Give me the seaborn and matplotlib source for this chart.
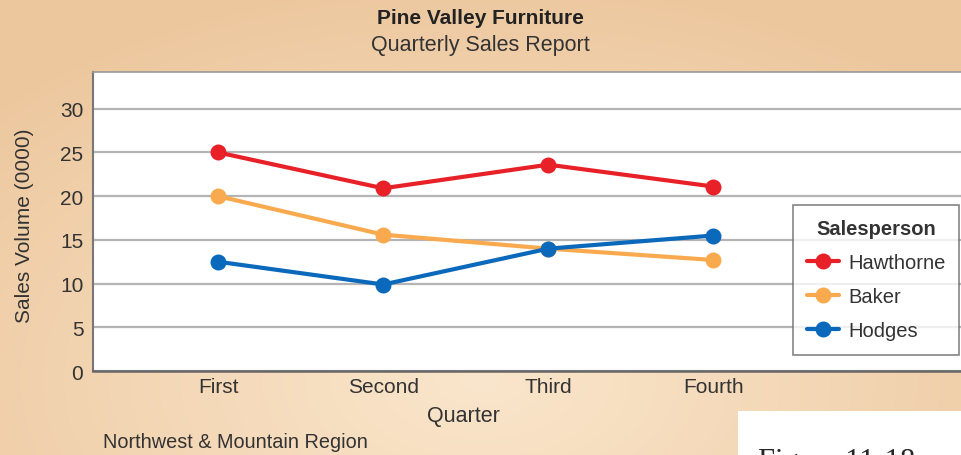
import numpy as np
import pandas as pd
import seaborn as sns
import matplotlib.pyplot as plt
from matplotlib.patches import Rectangle

# data
quarters = ['First', 'Second', 'Third', 'Fourth']
hawthorne = [25.0, 20.9, 23.6, 21.1]
baker = [20.0, 15.6, 14.0, 12.7]
hodges = [12.5, 9.9, 14.0, 15.5]
people = ['Hawthorne', 'Baker', 'Hodges']
colors = ['#E82129', '#F9AA4E', '#0B69BC']

df = pd.DataFrame({
    'Quarter': quarters * 3,
    'Sales': hawthorne + baker + hodges,
    'Salesperson': [p for p in people for _ in quarters],
})
df['pos'] = df['Quarter'].map({q: i for i, q in enumerate(quarters)})

sns.set_style('white')
plt.rcParams['font.family'] = ['Liberation Sans Narrow', 'Liberation Sans', 'DejaVu Sans']

fig = plt.figure(figsize=(9.61, 4.56), dpi=100)

# peach background gradient
bg = fig.add_axes([0, 0, 1, 1], zorder=-10)
yy, xx = np.mgrid[0:456, 0:961]
d = np.sqrt(((xx - 480) / 700.0) ** 2 + ((yy - 380) / 420.0) ** 2)
d = np.clip(d, 0, 1)
light = np.array([250, 230, 204]) / 255.0
dark = np.array([236, 198, 156]) / 255.0
img = light[None, None, :] * (1 - d[..., None]) + dark[None, None, :] * d[..., None]
bg.imshow(img, aspect='auto', extent=[0, 1, 0, 1])
bg.axis('off')

ax = fig.add_axes([0.0968, 0.184, 0.9032, 0.656])
ax.set_facecolor('white')
sns.lineplot(data=df, x='pos', y='Sales', hue='Salesperson', hue_order=people,
             palette=colors, marker='o', markersize=11.5, markeredgewidth=0,
             linewidth=3, ax=ax, zorder=3)

ax.set_xlim(-0.758, 4.5)
ax.set_ylim(0, 34.2)
ax.set_yticks([0, 5, 10, 15, 20, 25, 30])
ax.set_xticks(range(len(quarters)))
ax.set_xticklabels(quarters)
ax.grid(axis='y', color='#b4b4b4', linewidth=1.6)
ax.tick_params(axis='y', direction='in', length=7, width=1.2, color='#555555',
               labelsize=15, labelcolor='#333333', pad=7)
ax.tick_params(axis='x', length=0, labelsize=15, labelcolor='#333333', pad=4)
for s in ['top', 'right']:
    ax.spines[s].set_visible(False)
ax.spines['left'].set_color('#777777')
ax.spines['left'].set_linewidth(1.5)
ax.spines['bottom'].set_color('#666666')
ax.spines['bottom'].set_linewidth(1.8)
ax.spines['top'].set_visible(True)
ax.spines['top'].set_color('#999999')
ax.spines['top'].set_linewidth(1.2)

ax.set_xlabel('Quarter', fontsize=15.5, color='#333333')
ax.set_ylabel('Sales Volume (0000)', fontsize=15, color='#333333')
ax.xaxis.set_label_coords((463 - 93) / 868, -0.115)
ax.yaxis.set_label_coords(-0.068, 0.49)

leg = ax.legend(title='Salesperson', loc='upper left', bbox_to_anchor=(0.806, 0.555),
                frameon=True, fancybox=False, fontsize=14.5, title_fontsize=14.5,
                handlelength=1.6, borderpad=0.7, labelspacing=0.75,
                handletextpad=0.45, borderaxespad=0)
leg.get_frame().set_edgecolor('#666666')
leg.get_frame().set_linewidth(1.2)
for t in leg.get_texts():
    t.set_color('#333333')
    t.set_family(['Liberation Sans', 'DejaVu Sans'])
leg.get_title().set_fontweight('bold')
leg.get_title().set_family(['Liberation Sans', 'DejaVu Sans'])
leg.get_title().set_color('#333333')

fig.text(0.5, 1 - 18 / 456, 'Pine Valley Furniture', ha='center', va='center',
         fontsize=15, fontweight='bold', color='#222222')
fig.text(0.5, 1 - 46 / 456, 'Quarterly Sales Report', ha='center', va='center',
         fontsize=15.5, color='#333333')
fig.text(103 / 961, 1 - 443 / 456, 'Northwest & Mountain Region', ha='left',
         va='center', fontsize=14.3, color='#333333')

# white caption box cut off at the bottom right
fig.patches.append(Rectangle((738 / 961, 0), 1, (456 - 412) / 456,
                             transform=fig.transFigure, facecolor='white',
                             edgecolor='none', zorder=5))
fig.text(758 / 961, 1 - 448 / 456, 'Figure 11-18', ha='left', va='top',
         fontsize=22, family=['Liberation Serif', 'DejaVu Serif'], zorder=6)

fig.savefig('out.png', dpi=100)
